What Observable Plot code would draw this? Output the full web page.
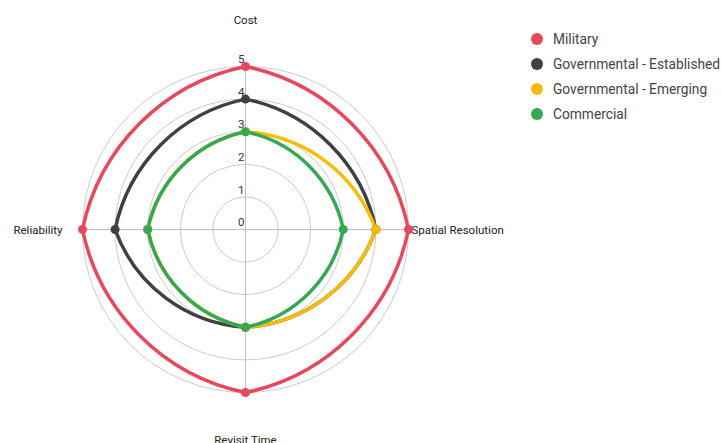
<!DOCTYPE html>
<html>
<head>
<meta charset="utf-8">
<script src="https://cdn.jsdelivr.net/npm/d3@7"></script>
<script src="https://cdn.jsdelivr.net/npm/@observablehq/plot@0.6"></script>
<style>
  html, body { margin: 0; padding: 0; background: #fff; }
  #wrap { position: relative; width: 721px; height: 443px; font-family: Roboto, sans-serif; }
  #legend { position: absolute; left: 531px; top: 26px; font-size: 13.75px; color: #444; }
  #legend .row { display: flex; align-items: center; height: 25px; white-space: nowrap; }
  #legend .sw { width: 12px; height: 12px; border-radius: 50%; margin-right: 10px; flex: none; }
</style>
</head>
<body>
<div id="wrap"><div id="legend"></div></div>
<script>
// Radar axes, clockwise from the top
const axes = ["Cost", "Spatial Resolution", "Revisit Time", "Reliability"];
const series = ["Military", "Governmental - Established", "Governmental - Emerging", "Commercial"];
const military = [5, 5, 5, 5];
const established = [4, 4, 3, 4];
const emerging = [3, 4, 3, 3];
const commercial = [3, 3, 3, 3];
const ticks = [0, 1, 2, 3, 4, 5];
const rings = [1, 2, 3, 4, 5];
const colors = ["#e8485a", "#404040", "#fbbc05", "#34a853"];

// Layout of the polar frame
const W = 721, H = 443, CX = 245, CY = 229, R = 163, MAX = 5;

const values = [military, established, emerging, commercial];
const angle = (i) => (i * 2 * Math.PI) / axes.length;
const rows = series.flatMap((s, k) =>
  axes.map((a, i) => ({series: s, axis: a, i, value: values[k][i]}))
);
const px = (d) => d.value * Math.sin(angle(d.i));
const py = (d) => d.value * Math.cos(angle(d.i));

// Closed curve: each edge is an outward-bulging circular arc between two vertices
// (vertices are visited clockwise on screen, so the outward normal is (uy, -ux)).
function radarCurve(context) {
  const bulge = 0.3;                       // sagitta / half-chord
  const q = Math.atan(bulge);              // quarter of the arc's central angle
  const half = 2 * q;                      // half of the central angle
  const cosH = Math.cos(half), sinH = Math.sin(half);
  let pts;
  return {
    areaStart() {}, areaEnd() {},
    lineStart() { pts = []; },
    point(x, y) { pts.push([+x, +y]); },
    lineEnd() {
      const n = pts.length;
      if (!n) return;
      context.moveTo(pts[0][0], pts[0][1]);
      for (let i = 0; i < n; ++i) {
        const [ax, ay] = pts[i], [bx, by] = pts[(i + 1) % n];
        const L = Math.hypot(bx - ax, by - ay);
        const ux = (bx - ax) / L, uy = (by - ay) / L;
        const nx = uy, ny = -ux;
        const rho = (L / 2) / sinH;
        const h = (4 / 3) * Math.tan(q) * rho;
        context.bezierCurveTo(
          ax + h * (cosH * ux + sinH * nx), ay + h * (cosH * uy + sinH * ny),
          bx - h * (cosH * ux - sinH * nx), by - h * (cosH * uy - sinH * ny),
          bx, by
        );
      }
      context.closePath();
    }
  };
}

const axisRows = axes.map((a, i) => ({axis: a, i, value: MAX}));
const labelOffsets = [
  {dx: 0, dy: -46, anchor: "middle"},
  {dx: 3, dy: 1, anchor: "start"},
  {dx: 0, dy: 48, anchor: "middle"},
  {dx: -20, dy: 1, anchor: "end"}
];

const chart = Plot.plot({
  width: W,
  height: H,
  marginLeft: CX - R,
  marginRight: W - CX - R,
  marginTop: CY - R,
  marginBottom: H - CY - R,
  x: {domain: [-MAX, MAX], axis: null},
  y: {domain: [-MAX, MAX], axis: null},
  r: {type: "linear", domain: [0, MAX], range: [0, R]},
  color: {domain: series, range: colors},
  style: {fontFamily: "Roboto, sans-serif", fontSize: "11.5px", background: "transparent"},
  marks: [
    Plot.dot(rings, {x: () => 0, y: () => 0, r: (d) => d, stroke: "#cccccc", strokeWidth: 1, fill: "none"}),
    Plot.link(axisRows, {x1: () => 0, y1: () => 0, x2: px, y2: py, stroke: "#bdbdbd", strokeWidth: 1}),
    ...labelOffsets.map((o, i) =>
      Plot.text([axisRows[i]], {x: px, y: py, text: "axis", dx: o.dx, dy: o.dy, textAnchor: o.anchor, fill: "#222", fontSize: 11.5})
    ),
    Plot.text(ticks, {x: () => 0, y: (d) => d, text: (d) => String(d), textAnchor: "end", dx: -1, dy: -7, fill: "#333", fontSize: 11.5}),
    Plot.line(rows, {x: px, y: py, z: "series", stroke: "series", strokeWidth: 3.5, curve: radarCurve}),
    Plot.dot(rows, {x: px, y: py, fill: "series", r: 4.5})
  ]
});

const wrap = document.getElementById("wrap");
wrap.insertBefore(chart, wrap.firstChild);

const legend = d3.select("#legend");
series.forEach((s, i) => {
  const row = legend.append("div").attr("class", "row");
  row.append("span").attr("class", "sw").style("background", colors[i]);
  row.append("span").text(s);
});
</script>
</body>
</html>
